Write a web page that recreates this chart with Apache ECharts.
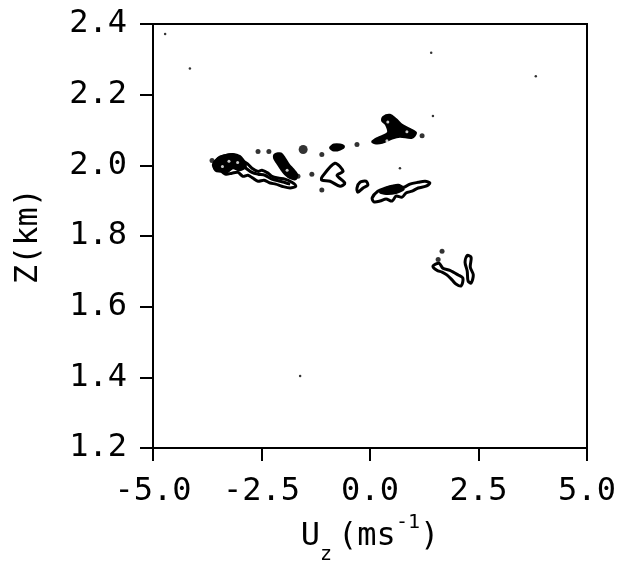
<!DOCTYPE html>
<html>
<head>
<meta charset="utf-8">
<script src="https://cdn.jsdelivr.net/npm/echarts@6/dist/echarts.min.js"></script>
<style>
  html, body { margin: 0; padding: 0; background: #fff; }
  #main { width: 624px; height: 570px; }
</style>
</head>
<body>
<div id="main"></div>
<script>
// axis ticks
const xTicks = [-5.0, -2.5, 0.0, 2.5, 5.0];
const yTicks = [1.2, 1.4, 1.6, 1.8, 2.0, 2.2, 2.4];

// filled contour blobs  [Uz, Z]
const topBlob = [[0.30,2.137],[0.46,2.143],[0.60,2.131],[0.74,2.115],[0.92,2.103],[1.06,2.092],[0.97,2.078],[0.69,2.081],[0.51,2.076],[0.28,2.064],[0.14,2.062],[0.05,2.067],[0.18,2.078],[0.41,2.092],[0.37,2.115],[0.28,2.126]];
const midBlob = [[-2.19,2.031],[-2.05,2.034],[-1.96,2.020],[-1.87,2.003],[-1.77,1.989],[-1.68,1.975],[-1.71,1.961],[-1.84,1.964],[-1.96,1.975],[-2.05,1.989],[-2.14,2.006],[-2.21,2.020]];
const leftCore = [[-3.62,2.003],[-3.48,2.022],[-3.27,2.031],[-3.06,2.028],[-2.93,2.014],[-2.86,1.997],[-3.00,1.986],[-3.16,1.992],[-3.30,1.980],[-3.46,1.986],[-3.57,1.989]];
const upperDash = [[-0.92,2.050],[-0.83,2.059],[-0.69,2.059],[-0.60,2.053],[-0.69,2.045],[-0.83,2.042]];
const rightCore = [[0.23,1.924],[0.41,1.938],[0.65,1.941],[0.78,1.933],[0.60,1.922],[0.37,1.919]];

// closed contour rings
const leftRing = [[-3.59,2.000],[-3.50,2.020],[-3.32,2.028],[-3.16,2.031],[-3.00,2.025],[-2.90,2.011],[-2.81,2.003],[-2.72,1.992],[-2.58,1.983],[-2.49,1.986],[-2.35,1.978],[-2.26,1.969],[-2.12,1.964],[-1.96,1.961],[-1.80,1.952],[-1.71,1.941],[-1.84,1.936],[-2.03,1.941],[-2.17,1.947],[-2.30,1.950],[-2.44,1.958],[-2.58,1.955],[-2.70,1.964],[-2.81,1.972],[-2.93,1.969],[-3.04,1.980],[-3.18,1.978],[-3.32,1.975],[-3.43,1.983],[-3.55,1.986]];
const triLoop = [[-1.11,1.966],[-0.81,2.006],[-0.62,1.983],[-0.76,1.972],[-0.58,1.950],[-0.69,1.941],[-0.92,1.955],[-1.11,1.958]];
const smallLoop = [[-0.30,1.936],[-0.23,1.952],[-0.09,1.955],[-0.05,1.944],[-0.16,1.936],[-0.28,1.924]];
const rightRing = [[0.05,1.908],[0.18,1.927],[0.37,1.936],[0.51,1.941],[0.65,1.944],[0.78,1.938],[0.92,1.947],[1.11,1.952],[1.27,1.955],[1.38,1.950],[1.29,1.941],[1.11,1.936],[0.97,1.927],[0.83,1.922],[0.74,1.910],[0.60,1.913],[0.51,1.899],[0.37,1.905],[0.23,1.899],[0.09,1.897]];
const rhombLoop = [[1.45,1.715],[1.59,1.723],[1.68,1.709],[1.84,1.703],[2.03,1.690],[2.14,1.681],[2.10,1.659],[1.98,1.664],[1.89,1.676],[1.77,1.690],[1.66,1.698],[1.54,1.703]];
const thinLoop = [[2.24,1.745],[2.33,1.740],[2.31,1.712],[2.38,1.690],[2.33,1.667],[2.26,1.673],[2.24,1.701],[2.19,1.726]];

// open wiggle inside the left band
const leftWiggle = [[-3.00,2.006],[-2.86,1.992],[-2.72,1.980],[-2.58,1.975],[-2.42,1.972],[-2.26,1.961],[-2.07,1.955],[-1.84,1.947]];

// isolated points
const dots = [[-3.64,2.014],[-2.58,2.039],[-2.33,2.039],[-1.11,2.031],[-0.30,2.059],[1.20,2.084],[-1.66,1.969],[-1.34,1.975],[-1.11,1.930],[1.66,1.757],[1.57,1.734]];
const bigDots = [[-1.54,2.045]];
const specks = [[-4.72,2.372],[-4.15,2.274],[1.41,2.319],[3.82,2.252],[1.45,2.140],[0.69,1.992],[-1.61,1.404]];
const holes = [[0.41,2.123],[0.85,2.095],[0.39,2.070],[-1.91,1.986],[-3.25,2.012],[-3.40,1.997],[-3.05,2.008]];

const filled = [topBlob, midBlob, leftCore, upperDash, rightCore];
const rings = [leftRing, triLoop, smallLoop, rightRing, rhombLoop, thinLoop];
const wiggles = [leftWiggle];

const font = '"DejaVu Sans Mono", monospace';

function shapeSeries(list, kind) {
  return {
    type: 'custom',
    data: list.map((p, i) => [p[0][0], p[0][1], i]),
    encode: { x: 0, y: 1 },
    silent: true,
    renderItem: function (params, api) {
      const pts = list[api.value(2)].map(p => api.coord(p));
      if (kind === 'fill') {
        return { type: 'polygon', shape: { points: pts, smooth: 0.3 },
          style: { fill: '#000', stroke: '#000', lineWidth: 2 } };
      }
      return { type: kind === 'ring' ? 'polygon' : 'polyline', shape: { points: pts, smooth: 0.3 },
        style: { fill: null, stroke: '#000', lineWidth: 3 } };
    }
  };
}

var myChart = echarts.init(document.getElementById('main'));
myChart.setOption({
  animation: false,
  backgroundColor: '#fff',
  grid: {
    left: 153, right: 37, top: 24, bottom: 117,
    show: true, borderColor: '#000', borderWidth: 2, backgroundColor: 'transparent'
  },
  xAxis: {
    type: 'value',
    min: xTicks[0], max: xTicks[xTicks.length - 1], interval: 2.5,
    name: '{a|U}{s|z}{a|(ms}{p|-1}{a|)}',
    nameLocation: 'middle',
    nameGap: 64,
    nameTextStyle: {
      rich: {
        a: { fontFamily: font, fontSize: 32, color: '#000', padding: [8, 0, 12, 0] },
        s: { fontFamily: font, fontSize: 20, color: '#000', verticalAlign: 'bottom', padding: [0, 6, 0, 0] },
        p: { fontFamily: font, fontSize: 20, color: '#000', verticalAlign: 'top' }
      }
    },
    axisLine: { show: true, onZero: false, lineStyle: { color: '#000', width: 2 } },
    axisTick: { show: true, inside: false, length: 13, lineStyle: { color: '#000', width: 2 } },
    axisLabel: {
      margin: 28, color: '#000', fontFamily: font, fontSize: 32,
      formatter: v => v.toFixed(1)
    },
    splitLine: { show: false }
  },
  yAxis: {
    type: 'value',
    min: yTicks[0], max: yTicks[yTicks.length - 1], interval: 0.2,
    name: 'Z(km)',
    nameLocation: 'middle',
    nameGap: 108,
    nameRotate: 90,
    nameTextStyle: { fontFamily: font, fontSize: 32, color: '#000' },
    axisLine: { show: true, onZero: false, lineStyle: { color: '#000', width: 2 } },
    axisTick: { show: true, inside: false, length: 13, lineStyle: { color: '#000', width: 2 } },
    axisLabel: {
      margin: 26, color: '#000', fontFamily: font, fontSize: 32,
      formatter: v => v.toFixed(1)
    },
    splitLine: { show: false }
  },
  series: [
    shapeSeries(filled, 'fill'),
    shapeSeries(rings, 'ring'),
    shapeSeries(wiggles, 'line'),
    { type: 'scatter', data: dots, symbol: 'circle', symbolSize: 5, itemStyle: { color: '#000' }, silent: true },
    { type: 'scatter', data: bigDots, symbol: 'circle', symbolSize: 9, itemStyle: { color: '#000' }, silent: true },
    { type: 'scatter', data: specks, symbol: 'circle', symbolSize: 2.5, itemStyle: { color: '#000' }, silent: true },
    { type: 'scatter', data: holes, symbol: 'circle', symbolSize: 3, itemStyle: { color: '#fff' }, silent: true, z: 5 }
  ]
});
</script>
</body>
</html>
